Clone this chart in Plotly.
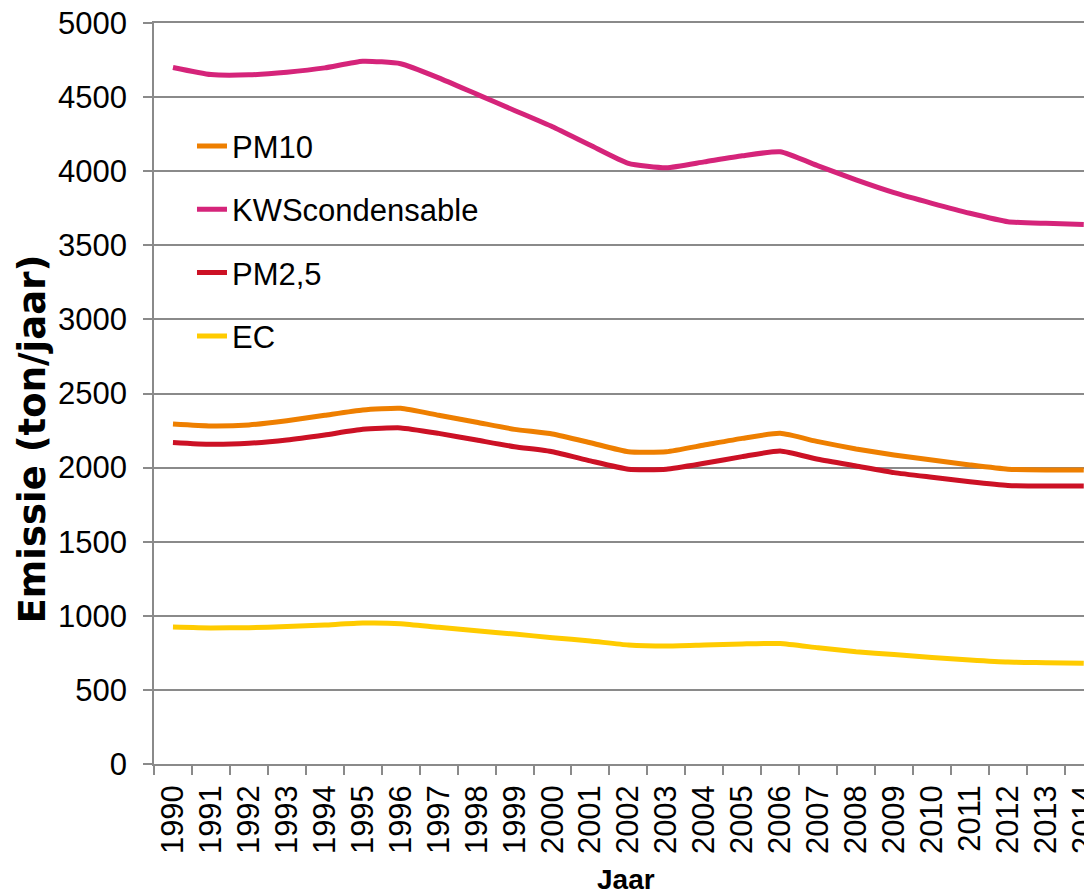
import plotly.graph_objects as go

years = [str(y) for y in range(1990, 2015)]

pm10 = [2294, 2281, 2288, 2316, 2353, 2389, 2400, 2353, 2306, 2258, 2227, 2168,
        2107, 2107, 2152, 2197, 2231, 2175, 2126, 2085, 2051, 2018, 1989, 1984, 1984]
kws = [4700, 4652, 4650, 4668, 4697, 4742, 4725, 4630, 4520, 4410, 4300, 4175,
       4053, 4023, 4063, 4104, 4131, 4036, 3941, 3855, 3783, 3716, 3659, 3648, 3641]
pm25 = [2170, 2157, 2164, 2186, 2220, 2258, 2268, 2231, 2186, 2141, 2107, 2045,
        1989, 1989, 2029, 2074, 2112, 2056, 2011, 1966, 1935, 1905, 1880, 1876, 1876]
ec = [924, 918, 920, 927, 938, 951, 947, 922, 899, 877, 852, 830,
      803, 796, 803, 810, 813, 784, 757, 739, 719, 702, 688, 684, 679]

series = [
    ("PM10", pm10, "#EE7F00"),
    ("KWScondensable", kws, "#D5247A"),
    ("PM2,5", pm25, "#CC1125"),
    ("EC", ec, "#FFCB00"),
]

y_ticks = list(range(0, 5001, 500))

fig = go.Figure()
for i, (name, vals, col) in enumerate(series):
    fig.add_trace(go.Scatter(
        x=years, y=vals, name=name, mode="lines", legendgroup=f"g{i}",
        line=dict(color=col, width=5, shape="spline", smoothing=0.5),
    ))

grid_col = "#8a8a8a"
font_family = "Liberation Sans, Arial, sans-serif"

# the page has an 8px body margin, so the figure is sized to fit the window
fig.update_layout(
    width=1084, height=887,
    margin=dict(l=146, r=0, t=15, b=131, autoexpand=False),
    paper_bgcolor="white", plot_bgcolor="white",
    font=dict(family=font_family, size=31, color="black"),
    showlegend=True,
    legend=dict(
        x=0.0405, xanchor="left", y=0.870, yanchor="top",
        bgcolor="rgba(0,0,0,0)", font=dict(size=31, family=font_family),
        tracegroupgap=20, itemclick=False,
    ),
    xaxis=dict(
        type="category", range=[-0.5, 24.217],
        tickangle=-90, tickfont=dict(size=31),
        ticks="outside", ticklen=9, tickwidth=1.5, tickcolor=grid_col,
        tickson="boundaries", ticklabelstandoff=7,
        ticklabeloverflow="allow",
        showline=True, linecolor=grid_col, linewidth=1.5, mirror=True,
        showgrid=False, zeroline=False,
    ),
    yaxis=dict(
        range=[0, 5000], tickvals=y_ticks,
        tickfont=dict(size=31), ticklabelstandoff=10,
        ticklabeloverflow="allow",
        ticks="outside", ticklen=9, tickwidth=1.5, tickcolor=grid_col,
        showline=True, linecolor=grid_col, linewidth=1.5,
        showgrid=True, gridcolor=grid_col, gridwidth=1.5,
        zeroline=False,
    ),
    annotations=[
        dict(text="<b>Emissie (ton/jaar)</b>", textangle=-90,
             x=-0.130, y=0.438, xref="paper", yref="paper",
             xanchor="center", yanchor="middle", showarrow=False,
             font=dict(size=37, family="DejaVu Sans, sans-serif", color="black")),
        dict(text="<b>Jaar</b>",
             x=0.503, y=-0.1552, xref="paper", yref="paper",
             xanchor="center", yanchor="middle", showarrow=False,
             font=dict(size=28, family=font_family, color="black")),
    ],
)

fig.write_html("out.html")
